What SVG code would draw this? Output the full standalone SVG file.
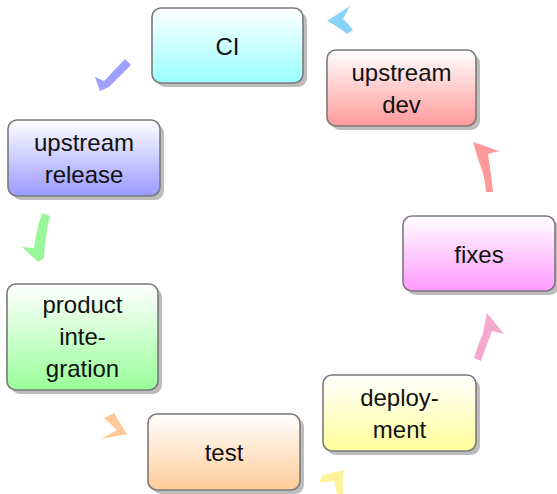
<svg xmlns="http://www.w3.org/2000/svg" width="557" height="494" viewBox="0 0 557 494">
<style>
.box{stroke:#7a7a7a;stroke-width:1.6}
.sh{fill:#bdbdbd}
.t{font-family:"Liberation Sans","DejaVu Sans",Arial,sans-serif;font-size:24px;fill:#111;text-anchor:middle}
</style>
<defs>
<linearGradient id="gCyan" x1="0" y1="0" x2="0" y2="1"><stop offset="0" stop-color="#ffffff"/><stop offset="1" stop-color="#99ffff"/></linearGradient>
<linearGradient id="gRed" x1="0" y1="0" x2="0" y2="1"><stop offset="0" stop-color="#ffffff"/><stop offset="1" stop-color="#ff9999"/></linearGradient>
<linearGradient id="gBlue" x1="0" y1="0" x2="0" y2="1"><stop offset="0" stop-color="#ffffff"/><stop offset="1" stop-color="#9999ff"/></linearGradient>
<linearGradient id="gGreen" x1="0" y1="0" x2="0" y2="1"><stop offset="0" stop-color="#ffffff"/><stop offset="1" stop-color="#99ff99"/></linearGradient>
<linearGradient id="gOrange" x1="0" y1="0" x2="0" y2="1"><stop offset="0" stop-color="#ffffff"/><stop offset="1" stop-color="#ffcc99"/></linearGradient>
<linearGradient id="gYellow" x1="0" y1="0" x2="0" y2="1"><stop offset="0" stop-color="#ffffff"/><stop offset="1" stop-color="#ffff99"/></linearGradient>
<linearGradient id="gMagenta" x1="0" y1="0" x2="0" y2="1"><stop offset="0" stop-color="#ffffff"/><stop offset="1" stop-color="#ff99ff"/></linearGradient>
</defs>

<g id="connectors">
<path fill="#88d3f6" d="M327,21 L350,6 L343,19 Q349,24 353,30 L347,34 Q339,27 327,21 Z"/>
<path fill="#9f9fff" d="M95,77 L104,81 L107,78 Q116,68 125,59 L131,65 Q121,75 109,87 L100,91 Z"/>
<path fill="#99f799" d="M42,213 L50,216 Q45,236 44,258 L38,262 L22,247 L34,248 Q36,231 42,213 Z"/>
<path fill="#ffc896" d="M104,418 L114,413 Q119,422 127,434 L101,439 L117,430 Q111,424 104,418 Z"/>
<path fill="#fff39c" d="M344,470 Q342,482 343,494 L337,494 Q335,487 334,481 L319,483 L322,476 Q333,472 344,470 Z"/>
<path fill="#f4a8cc" d="M487,313 L504,334 L492,331 Q486,346 481,361 L474,358 Q478,345 483,333 Q485,322 487,313 Z"/>
<path fill="#ff9a9a" d="M473,142 L499,151 L488,154 Q491,172 493,192 L486,192 Q485,176 479,162 Q476,152 473,142 Z"/>
</g>

<g id="node-ci">
<rect class="sh" x="156" y="12" width="151" height="75" rx="9"/>
<rect class="box" x="152" y="8" width="151" height="75" rx="9" fill="url(#gCyan)"/>
<text class="t" x="227.5" y="55">CI</text>
</g>

<g id="node-upstream-dev">
<rect class="sh" x="331" y="54" width="149" height="76" rx="9"/>
<rect class="box" x="327" y="50" width="149" height="76" rx="9" fill="url(#gRed)"/>
<text class="t" x="401.5" y="80.5">upstream</text>
<text class="t" x="401.5" y="112.5">dev</text>
</g>

<g id="node-upstream-release">
<rect class="sh" x="12" y="124" width="152" height="76" rx="9"/>
<rect class="box" x="8" y="120" width="152" height="76" rx="9" fill="url(#gBlue)"/>
<text class="t" x="84" y="150.5">upstream</text>
<text class="t" x="84" y="182.5">release</text>
</g>

<g id="node-product-integration">
<rect class="sh" x="11" y="288" width="151" height="106" rx="9"/>
<rect class="box" x="7" y="284" width="151" height="106" rx="9" fill="url(#gGreen)"/>
<text class="t" x="82.5" y="313">product</text>
<text class="t" x="82.5" y="345">inte-</text>
<text class="t" x="82.5" y="377">gration</text>
</g>

<g id="node-test">
<rect class="sh" x="152" y="418" width="152" height="76" rx="9"/>
<rect class="box" x="148" y="414" width="152" height="76" rx="9" fill="url(#gOrange)"/>
<text class="t" x="224" y="461">test</text>
</g>

<g id="node-deployment">
<rect class="sh" x="327" y="379" width="153" height="76" rx="9"/>
<rect class="box" x="323" y="375" width="153" height="76" rx="9" fill="url(#gYellow)"/>
<text class="t" x="399.5" y="406">deploy-</text>
<text class="t" x="399.5" y="438">ment</text>
</g>

<g id="node-fixes">
<rect class="sh" x="407" y="220" width="152" height="75" rx="9"/>
<rect class="box" x="403" y="216" width="152" height="75" rx="9" fill="url(#gMagenta)"/>
<text class="t" x="479" y="262.5">fixes</text>
</g>
</svg>
